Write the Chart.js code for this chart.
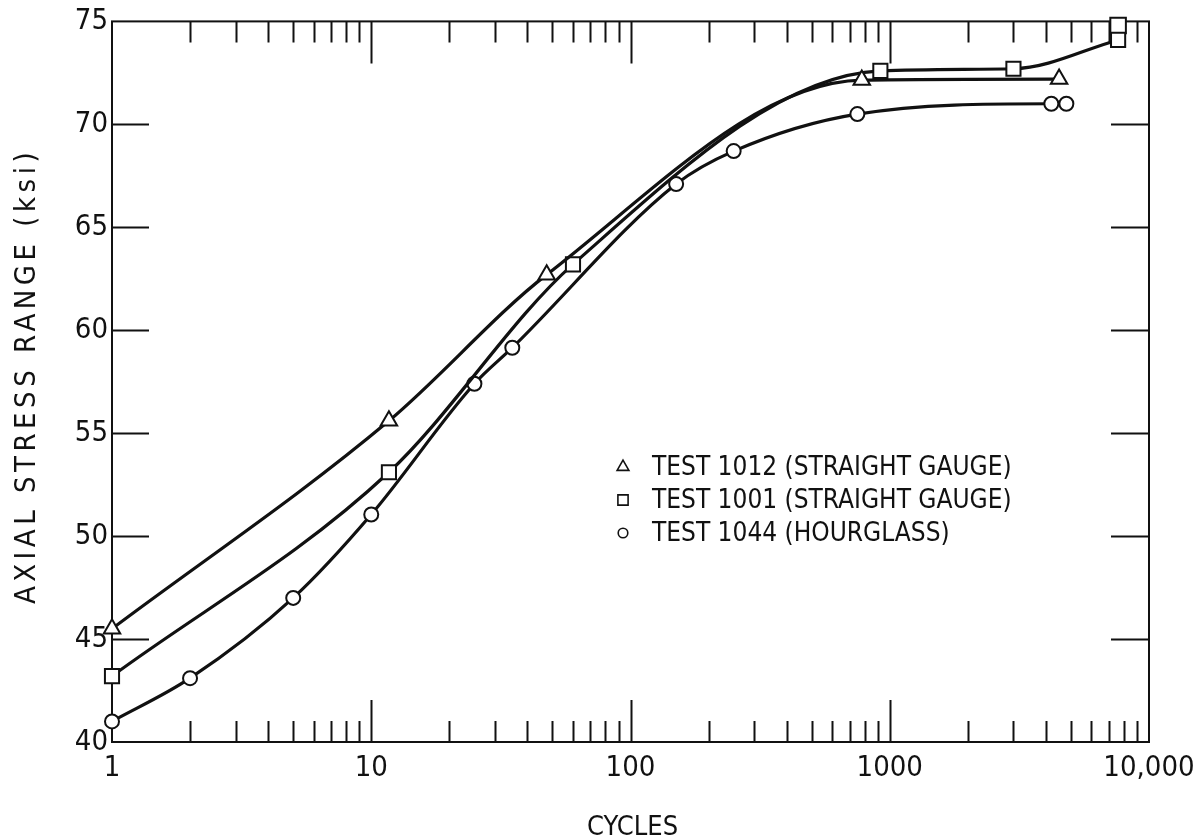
<!DOCTYPE html>
<html>
<head>
<meta charset="utf-8">
<title>Axial stress range vs cycles</title>
<script src="https://cdn.jsdelivr.net/npm/chart.js@4.4.1/dist/chart.umd.min.js"></script>
<style>
  html, body { margin: 0; padding: 0; background: #fff; }
  #wrap { width: 1198px; height: 839px; }
</style>
</head>
<body>
<div id="wrap"><canvas id="grafico" width="1198" height="839"></canvas></div>
<script>
// readings: cycles and stress range (ksi) for each test
const cycles1012 = [1, 11.7, 47.5, 780, 4500];
const stress1012 = [45.5, 55.6, 62.7, 72.15, 72.2];

const cycles1001 = [1, 11.7, 60, 920, 3000, 7600];
const stress1001 = [43.2, 53.1, 63.2, 72.6, 72.7, 74.1];

// second marker sitting on the last 1001 reading
const cycles1001b = [7600];
const stress1001b = [74.8];

const cycles1044 = [1, 2, 5, 10, 25, 35, 150, 250, 750, 4200, 4800];
const stress1044 = [41.0, 43.1, 47.0, 51.05, 57.4, 59.15, 67.1, 68.7, 70.5, 71.0, 71.0];

const legendLabels = ['TEST 1012 (STRAIGHT GAUGE)', 'TEST 1001 (STRAIGHT GAUGE)', 'TEST 1044 (HOURGLASS)'];
const xTitle = 'CYCLES';
const yTitle = 'AXIAL STRESS RANGE (ksi)';

const xTicks = [1, 2, 3, 4, 5, 6, 7, 8, 9,
  10, 20, 30, 40, 50, 60, 70, 80, 90,
  100, 200, 300, 400, 500, 600, 700, 800, 900,
  1000, 2000, 3000, 4000, 5000, 6000, 7000, 8000, 9000, 10000];
const xLabels = { 1: '1', 10: '10', 100: '100', 1000: '1000', 10000: '10,000' };
const yTicks = [40, 45, 50, 55, 60, 65, 70, 75];

const INK = '#111';
const FONT = "'DejaVu Sans Condensed', 'Liberation Sans Narrow', 'DejaVu Sans', sans-serif";

const pts = (xs, ys) => xs.map((x, i) => ({ x, y: ys[i] }));

function serie(label, data, style, radius) {
  return {
    label,
    data,
    pointStyle: style,
    pointRadius: radius,
    pointBorderWidth: 2,
    pointBackgroundColor: '#fff',
    pointBorderColor: INK,
    borderColor: INK,
    borderWidth: 3.2,
    cubicInterpolationMode: 'monotone',
    clip: false
  };
}

// ticks pointing into the plot on all four sides, plus the frame
const innerTicks = {
  id: 'innerTicks',
  beforeDatasetsDraw(chart) {
    const { ctx, chartArea: a, scales: { x, y } } = chart;
    ctx.save();
    ctx.strokeStyle = INK;
    ctx.lineWidth = 2;
    ctx.beginPath();
    xTicks.forEach(v => {
      if (v === 1 || v === 10000) return;
      const px = Math.round(x.getPixelForValue(v)) + 0.5;
      const len = Number.isInteger(Math.log10(v)) ? 42 : 21;
      ctx.moveTo(px, a.bottom); ctx.lineTo(px, a.bottom - len);
      ctx.moveTo(px, a.top); ctx.lineTo(px, a.top + len);
    });
    yTicks.forEach(v => {
      if (v === 40 || v === 75) return;
      const py = Math.round(y.getPixelForValue(v)) + 0.5;
      ctx.moveTo(a.left, py); ctx.lineTo(a.left + 37, py);
      ctx.moveTo(a.right, py); ctx.lineTo(a.right - 38, py);
    });
    ctx.stroke();
    ctx.strokeRect(a.left, a.top, a.right - a.left, a.bottom - a.top);
    ctx.restore();
  }
};

// axis titles (the y one is letter-spaced) and the legend inside the plot
const labelsLayer = {
  id: 'labelsLayer',
  afterDraw(chart) {
    const { ctx, chartArea: a } = chart;
    ctx.save();
    ctx.fillStyle = INK;

    ctx.font = '27px ' + FONT;
    ctx.textAlign = 'center';
    ctx.textBaseline = 'alphabetic';
    ctx.fillText(xTitle, (a.left + a.right) / 2 + 2, 835);

    ctx.save();
    ctx.translate(35, 376);
    ctx.rotate(-Math.PI / 2);
    ctx.font = '29px ' + FONT;
    ctx.letterSpacing = '4.5px';
    ctx.fillText(yTitle, 0, 0);
    ctx.restore();

    const sizes = [6.8, 7.2, 4.8];
    ctx.font = '26px ' + FONT;
    ctx.textAlign = 'left';
    ctx.textBaseline = 'middle';
    legendLabels.forEach((txt, i) => {
      const ds = chart.data.datasets[i];
      const yy = 467 + i * 33;
      ctx.fillStyle = '#fff';
      ctx.strokeStyle = INK;
      ctx.lineWidth = 1.6;
      Chart.helpers.drawPoint(ctx, { pointStyle: ds.pointStyle, radius: sizes[i], borderWidth: 1.6 }, 623, yy);
      ctx.fillStyle = INK;
      ctx.fillText(txt, 652, yy + 1);
    });
    ctx.restore();
  }
};

const tickFont = { family: FONT, size: 29 };

new Chart(document.getElementById('grafico'), {
  type: 'line',
  data: {
    datasets: [
      serie(legendLabels[0], pts(cycles1012, stress1012), 'triangle', 9.5),
      serie(legendLabels[1], pts(cycles1001, stress1001), 'rect', 10),
      serie(legendLabels[2], pts(cycles1044, stress1044), 'circle', 7),
      Object.assign(serie('', pts(cycles1001b, stress1001b), 'rect', 11), { showLine: false })
    ]
  },
  options: {
    responsive: false,
    animation: false,
    devicePixelRatio: 1,
    layout: { padding: { top: 20, right: 49, left: 0, bottom: 0 } },
    plugins: { legend: { display: false }, tooltip: { enabled: false } },
    scales: {
      x: {
        type: 'logarithmic',
        min: 1,
        max: 10000,
        afterBuildTicks: s => { s.ticks = xTicks.map(v => ({ value: v })); },
        afterFit: s => { s.height = 97; s.paddingLeft = 0; s.paddingRight = 0; },
        grid: { display: false, drawTicks: false },
        border: { display: false },
        ticks: {
          autoSkip: false,
          maxRotation: 0,
          padding: 9,
          color: INK,
          font: tickFont,
          callback: v => xLabels[v] ?? ''
        }
      },
      y: {
        min: 40,
        max: 75,
        afterBuildTicks: s => { s.ticks = yTicks.map(v => ({ value: v })); },
        afterFit: s => { s.width = 112; },
        grid: { display: false, drawTicks: false },
        border: { display: false },
        ticks: { padding: 4, color: INK, font: tickFont }
      }
    }
  },
  plugins: [innerTicks, labelsLayer]
});
</script>
</body>
</html>
